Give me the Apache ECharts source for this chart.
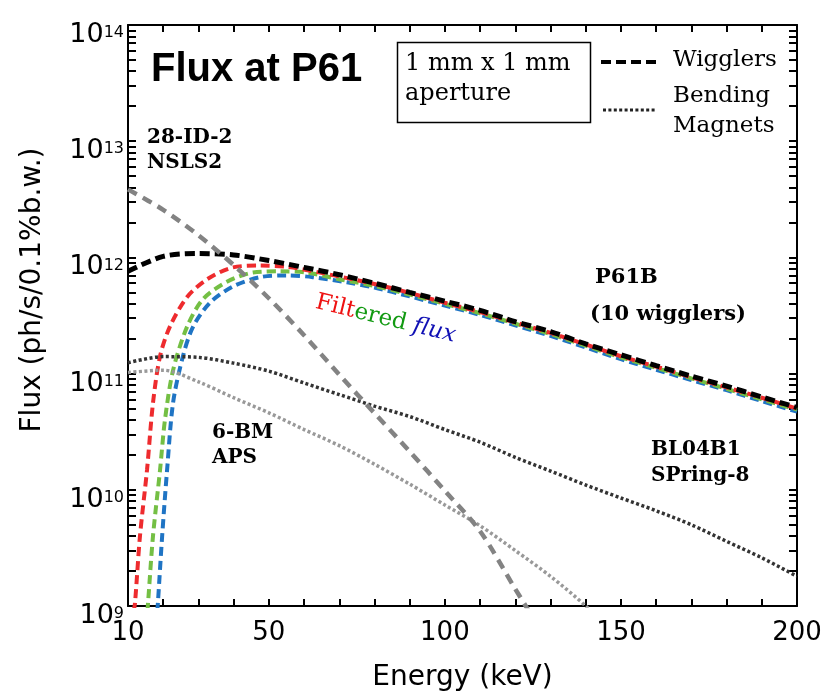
<!DOCTYPE html>
<html>
<head>
<meta charset="utf-8">
<title>Flux at P61</title>
<script src="https://cdn.jsdelivr.net/npm/echarts@6/dist/echarts.min.js"></script>
<style>
  html, body { margin: 0; padding: 0; background: #fff; }
  #chart { width: 825px; height: 698px; }
</style>
</head>
<body>
<div id="chart"></div>
<script>
// energy axis (keV)
const energyLabels = [10, 50, 100, 150, 200];
const fluxDecades = [1e9, 1e10, 1e11, 1e12, 1e13, 1e14];

// P61B, 10 wigglers (black dashed)
const wigE = [10, 20, 30, 40, 50, 60, 70, 80, 90, 100, 110, 120, 130, 140, 150, 160, 170, 180, 190, 200];
const wigFlux = [7.6e11, 1.02e12, 1.08e12, 1.05e12, 9.4e11, 8.2e11, 7.1e11, 6.0e11, 5.0e11, 4.2e11,
  3.5e11, 2.8e11, 2.3e11, 1.8e11, 1.45e11, 1.17e11, 9.5e10, 7.8e10, 6.3e10, 5.1e10];

// filtered flux, red / green / blue
const redE = [11.6, 12.0, 13.4, 15.4, 17.1, 19.1, 21.9, 26.8, 32.4, 39.8, 47.5, 55.2, 64.5,
  80, 90, 100, 110, 120, 130, 140, 150, 160, 170, 180, 190, 200];
const redFlux = [8.9e8, 1.07e9, 4.0e9, 1.48e10, 5.6e10, 1.41e11, 2.54e11, 4.57e11, 6.46e11, 8.2e11, 8.5e11, 8.3e11, 7.4e11,
  5.9e11, 4.95e11, 4.07e11, 3.39e11, 2.75e11, 2.24e11, 1.78e11, 1.41e11, 1.15e11, 9.3e10, 7.6e10, 6.2e10, 5.0e10];

const greenE = [15.5, 15.7, 17.1, 19.1, 20.5, 22.8, 26.8, 31.3, 38.1, 45.5, 53.2, 60.8, 70.2,
  80, 90, 100, 110, 120, 130, 140, 150, 160, 170, 180, 190, 200];
const greenFlux = [8.9e8, 1.07e9, 4.0e9, 1.48e10, 4.0e10, 1.07e11, 2.54e11, 4.37e11, 6.17e11, 7.41e11, 7.59e11, 7.41e11, 6.46e11,
  5.69e11, 4.79e11, 3.98e11, 3.31e11, 2.69e11, 2.19e11, 1.74e11, 1.38e11, 1.12e11, 9.1e10, 7.4e10, 6.0e10, 4.9e10];

const blueE = [18.3, 18.5, 19.7, 21.1, 22.8, 25.6, 28.5, 33.3, 39.8, 47.5, 55.2, 62.5, 72.2,
  80, 90, 100, 110, 120, 130, 140, 150, 160, 170, 180, 190, 200];
const blueFlux = [8.9e8, 1.07e9, 4.0e9, 1.48e10, 5.6e10, 1.41e11, 2.54e11, 4.07e11, 5.62e11, 6.76e11, 7.0e11, 6.76e11, 6.1e11,
  5.5e11, 4.62e11, 3.85e11, 3.2e11, 2.6e11, 2.11e11, 1.68e11, 1.33e11, 1.08e11, 8.8e10, 7.2e10, 5.8e10, 4.7e10];

// 28-ID-2 NSLS2 (grey dashed)
const nslsE = [10, 20, 30, 40, 50, 60, 70, 80, 90, 100, 110, 120, 130];
const nslsFlux = [3.85e12, 2.57e12, 1.55e12, 8.6e11, 4.45e11, 2.14e11, 9.8e10, 4.57e10, 2.14e10, 9.8e9, 4.4e9, 1.4e9, 4.5e8];

// BL04B1 SPring-8 (dark dotted)
const spring8E = [10, 20, 30, 40, 50, 60, 70, 80, 90, 100, 110, 120, 130, 140, 150, 160, 170, 180, 190, 200];
const spring8Flux = [1.24e11, 1.40e11, 1.38e11, 1.23e11, 1.05e11, 8.3e10, 6.6e10, 5.25e10, 4.27e10, 3.3e10,
  2.57e10, 1.9e10, 1.45e10, 1.1e10, 8.5e9, 6.6e9, 5.0e9, 3.6e9, 2.6e9, 1.8e9];

// 6-BM APS (light dotted)
const apsE = [10, 20, 30, 40, 50, 60, 70, 80, 90, 100, 110, 120, 130, 140, 150];
const apsFlux = [1.02e11, 1.07e11, 8.5e10, 6.2e10, 4.6e10, 3.3e10, 2.4e10, 1.66e10, 1.12e10, 7.4e9,
  4.9e9, 3.0e9, 1.8e9, 1.0e9, 5e8];

const pairs = (xs, ys) => xs.map((x, i) => [x, ys[i]]);

// minor ticks 1..9 x 10^n for the log axis
const fluxTicks = [];
for (let d = 9; d < 14; d++) {
  for (let m = 1; m < 10; m++) fluxTicks.push(m * Math.pow(10, d));
}
fluxTicks.push(1e14);

const sans = "DejaVu Sans";
const serif = "DejaVu Serif";

const makeLine = (data, color, width, dash, z) => ({
  type: "line",
  data: data,
  showSymbol: false,
  smooth: 0.3,
  silent: true,
  z: z,
  lineStyle: { color: color, width: width, type: dash, cap: "butt" },
});

const xAxisBase = (position) => ({
  type: "value",
  position: position,
  min: 10,
  max: 200,
  interval: 10,
  axisLine: { show: true, lineStyle: { color: "#000", width: 2 } },
  axisTick: { show: true, inside: true, length: 7, lineStyle: { color: "#000", width: 2 } },
  splitLine: { show: false },
});

const yAxisBase = (position) => ({
  type: "log",
  logBase: 10,
  position: position,
  min: 1e9,
  max: 1e14,
  axisLine: { show: true, lineStyle: { color: "#000", width: 2 } },
  axisTick: {
    show: true,
    inside: true,
    length: 8,
    customValues: fluxTicks,
    lineStyle: { color: "#000", width: 2 },
  },
  splitLine: { show: false },
  minorTick: { show: false },
});

const chart = echarts.init(document.getElementById("chart"));

const option = {
  animation: false,
  backgroundColor: "#fff",
  grid: { left: 128, right: 28, top: 25, bottom: 92, containLabel: false },
  xAxis: [
    Object.assign(xAxisBase("bottom"), {
      axisLabel: {
        formatter: (v) => (energyLabels.includes(v) ? String(v) : ""),
        fontFamily: sans,
        fontSize: 26,
        color: "#000",
        margin: 14,
      },
      name: "Energy (keV)",
      nameLocation: "middle",
      nameGap: 58,
      nameTextStyle: { fontFamily: sans, fontSize: 28, color: "#000" },
    }),
    Object.assign(xAxisBase("top"), { axisLabel: { show: false } }),
  ],
  yAxis: [
    Object.assign(yAxisBase("left"), {
      axisLabel: {
        customValues: fluxDecades,
        formatter: (v) => "{b|10}{s|" + Math.round(Math.log10(v)) + "}",
        verticalAlign: "top",
        margin: 4,
        rich: {
          b: { fontFamily: sans, fontSize: 27, color: "#000", lineHeight: 20 },
          s: { fontFamily: sans, fontSize: 16, color: "#000", lineHeight: 14, verticalAlign: "top" },
        },
      },
    }),
    Object.assign(yAxisBase("right"), { axisLabel: { show: false } }),
  ],
  series: [
    makeLine(pairs(blueE, blueFlux), "#1f74c4", 4, [9, 5], 2),
    makeLine(pairs(greenE, greenFlux), "#74bf44", 4, [9, 5], 3),
    makeLine(pairs(redE, redFlux), "#ee2b2e", 4, [9, 5], 4),
    makeLine(pairs(wigE, wigFlux), "#000", 5, [10, 5], 5),
    makeLine(pairs(spring8E, spring8Flux), "#333", 3.5, [3, 2.5], 6),
    makeLine(pairs(apsE, apsFlux), "#999", 3.5, [3, 2.5], 6),
    makeLine(pairs(nslsE, nslsFlux), "#838383", 4.5, [10, 7], 7),
  ],
  graphic: [
    {
      type: "text", x: 33, y: 290, rotation: Math.PI / 2,
      style: { text: "Flux (ph/s/0.1%b.w.)", font: "28px " + sans, fill: "#000", align: "center", verticalAlign: "middle" },
    },
    {
      type: "text", x: 151, y: 70,
      style: { text: "Flux at P61", font: "bold 40px 'Liberation Sans'", fill: "#000", verticalAlign: "middle" },
    },
    {
      type: "rect", shape: { x: 397.5, y: 42.5, width: 193, height: 80 },
      style: { fill: "#fff", stroke: "#000", lineWidth: 1.5 },
    },
    {
      type: "text", x: 405, y: 64,
      style: { text: "1 mm x 1 mm", font: "24px " + serif, fill: "#000", verticalAlign: "middle" },
    },
    {
      type: "text", x: 405, y: 94,
      style: { text: "aperture", font: "24px " + serif, fill: "#000", verticalAlign: "middle" },
    },
    {
      type: "line", shape: { x1: 601, y1: 62, x2: 656, y2: 62 },
      style: { stroke: "#000", lineWidth: 4, lineDash: [10, 5] },
    },
    {
      type: "line", shape: { x1: 603, y1: 110, x2: 657, y2: 110 },
      style: { stroke: "#222", lineWidth: 3, lineDash: [3, 2.4] },
    },
    {
      type: "text", x: 673, y: 60,
      style: { text: "Wigglers", font: "23px " + serif, fill: "#000", verticalAlign: "middle" },
    },
    {
      type: "text", x: 673, y: 96,
      style: { text: "Bending", font: "23px " + serif, fill: "#000", verticalAlign: "middle" },
    },
    {
      type: "text", x: 673, y: 126,
      style: { text: "Magnets", font: "23px " + serif, fill: "#000", verticalAlign: "middle" },
    },
    {
      type: "text", x: 147, y: 150,
      style: { text: "28-ID-2\nNSLS2", font: "bold 20px " + serif, fill: "#000", verticalAlign: "middle", lineHeight: 25 },
    },
    {
      type: "text", x: 595, y: 278,
      style: { text: "P61B", font: "bold 21px " + serif, fill: "#000", verticalAlign: "middle" },
    },
    {
      type: "text", x: 590, y: 315,
      style: { text: "(10 wigglers)", font: "bold 21px " + serif, fill: "#000", verticalAlign: "middle" },
    },
    {
      type: "text", x: 212, y: 445,
      style: { text: "6-BM\nAPS", font: "bold 20px " + serif, fill: "#000", verticalAlign: "middle", lineHeight: 25 },
    },
    {
      type: "text", x: 651, y: 463,
      style: { text: "BL04B1\nSPring-8", font: "bold 20px " + serif, fill: "#000", verticalAlign: "middle", lineHeight: 26 },
    },
    {
      type: "text", x: 316, y: 302, rotation: -0.24,
      style: {
        text: "{r|Filt}{g|ered }{b|flux}",
        verticalAlign: "middle",
        rich: {
          r: { font: "23px " + serif, fill: "#ee1111" },
          g: { font: "23px " + serif, fill: "#129a12" },
          b: { font: "italic 23px " + serif, fill: "#1010b4" },
        },
      },
    },
  ],
};

chart.setOption(option);
window.addEventListener("resize", () => chart.resize());
</script>
</body>
</html>
